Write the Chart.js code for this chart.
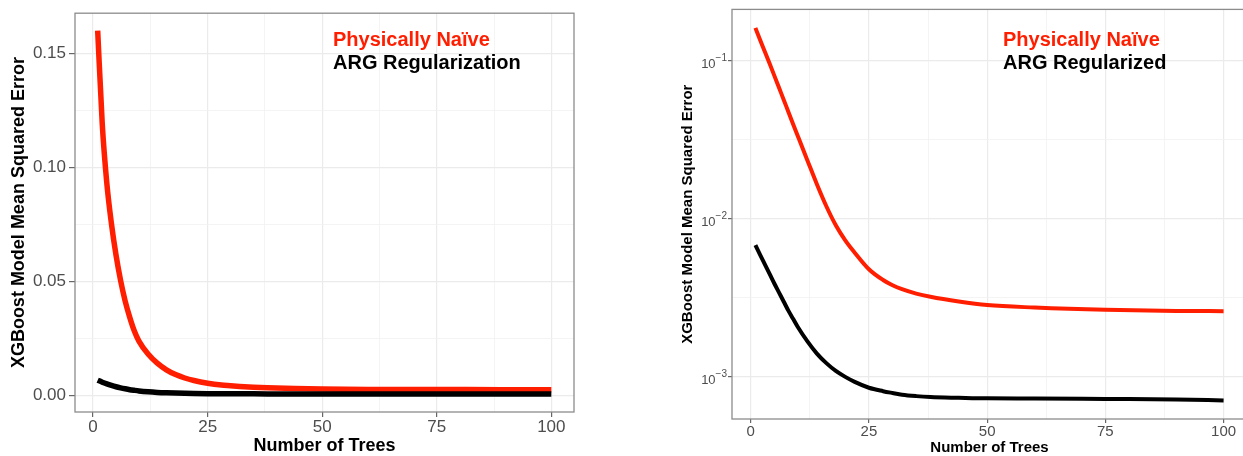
<!DOCTYPE html>
<html>
<head>
<meta charset="utf-8">
<script src="https://cdn.jsdelivr.net/npm/chart.js@4.4.1/dist/chart.umd.min.js"></script>
<style>
  html, body { margin: 0; padding: 0; background: #fff; overflow: hidden; }
  #left { position: absolute; left: 0; top: 0; }
  #right { position: absolute; left: 620px; top: 0; }
</style>
</head>
<body>
<canvas id="left" width="620" height="456"></canvas>
<canvas id="right" width="640" height="456"></canvas>
<script>
const trees = [1, 2, 3, 4, 5, 6, 7, 8, 9, 10, 12, 14, 16, 18, 20, 22, 25, 28, 30, 32, 35, 38, 44, 50, 60, 75, 90, 100];

// left panel (linear axis), physically naive model
const naiveLinear = [0.160, 0.119, 0.093, 0.0754, 0.0616, 0.0504, 0.0414, 0.0343, 0.0283, 0.0239, 0.0182, 0.0142,
  0.0113, 0.0092, 0.0077, 0.0066, 0.0054, 0.0046, 0.0043, 0.0040, 0.00365, 0.0034, 0.0031, 0.0029, 0.0027, 0.00265,
  0.0026, 0.0026];

// right panel (log axis), physically naive model
const naiveLog = [0.160, 0.134, 0.113, 0.0951, 0.0798, 0.0668, 0.0560, 0.0468, 0.0392, 0.0329, 0.0232, 0.0164, 0.0119,
  0.00902, 0.00724, 0.00605, 0.00475, 0.00406, 0.00376, 0.00355, 0.00333, 0.00318, 0.00297, 0.00282, 0.00272, 0.00263,
  0.00259, 0.00258];

// ARG regularized model (same curve on both panels)
const argMSE = [0.00675, 0.00586, 0.00510, 0.00444, 0.00386, 0.00338, 0.00296, 0.00259, 0.00230, 0.00204, 0.00166,
  0.00139, 0.00121, 0.00108, 0.00099, 0.00092, 0.000845, 0.000804, 0.000783, 0.000764, 0.000748, 0.000738, 0.00073,
  0.000724, 0.000723, 0.000718, 0.000713, 0.000703];

const xTicks = [0, 25, 50, 75, 100];
const xMinor = [12.5, 37.5, 62.5, 87.5];
const linTicks = [0, 0.05, 0.10, 0.15];
const linMinor = [0.025, 0.075, 0.125];
const logTicks = [0.001, 0.01, 0.1];
const logMinor = [0.003162, 0.03162];

const FONT = "'Liberation Sans', Arial, Helvetica, sans-serif";
const RED = 'rgb(255, 30, 0)';

function points(values) {
  return trees.map((t, i) => ({ x: t, y: values[i] }));
}

function line(values, color, width, order) {
  return {
    data: points(values),
    borderColor: color,
    borderWidth: width,
    pointRadius: 0,
    cubicInterpolationMode: 'monotone',
    borderCapStyle: 'butt',
    order: order
  };
}

// panel border, the coloured "legend" text and 10^n tick labels
const panelDecor = {
  id: 'panelDecor',
  afterDatasetsDraw(chart, args, opts) {
    const { ctx, chartArea: a } = chart;
    ctx.save();
    ctx.strokeStyle = '#8c8c8c';
    ctx.lineWidth = 1.3;
    ctx.strokeRect(a.left, a.top, a.right - a.left, a.bottom - a.top);
    ctx.font = 'bold 20px ' + FONT;
    ctx.textBaseline = 'alphabetic';
    opts.labels.forEach((l, i) => {
      ctx.fillStyle = l.color;
      ctx.fillText(l.text, opts.x, opts.y + i * 23.5);
    });
    if (opts.powers) {
      const scale = chart.scales.y;
      const right = a.left - 5;
      ctx.fillStyle = '#4d4d4d';
      ctx.textAlign = 'right';
      opts.powers.forEach(v => {
        const py = scale.getPixelForValue(v);
        const exp = '\u2212' + String(Math.abs(Math.round(Math.log10(v))));
        ctx.font = '10px ' + FONT;
        const ew = ctx.measureText(exp).width;
        ctx.fillText(exp, right, py + 1);
        ctx.font = '13px ' + FONT;
        ctx.fillText('10', right - ew, py + 7.5);
      });
    }
    ctx.restore();
  }
};

function gridStyle(major) {
  return {
    color: ctx => major.includes(ctx.tick.value) ? '#ebebeb' : '#f1f1f1',
    lineWidth: ctx => major.includes(ctx.tick.value) ? 1.2 : 0.8,
    tickColor: ctx => major.includes(ctx.tick.value) ? '#666' : 'rgba(0,0,0,0)',
    tickWidth: 1.2
  };
}

// ---- left: linear scale ----
new Chart(document.getElementById('left'), {
  type: 'line',
  data: {
    datasets: [
      line(argMSE, '#000', 5.5, 0),
      line(naiveLinear, RED, 5.5, 1)
    ]
  },
  options: {
    responsive: false,
    animation: false,
    devicePixelRatio: 1,
    layout: { padding: { top: 12, right: 46, bottom: 0, left: 0 } },
    plugins: {
      legend: { display: false },
      tooltip: { enabled: false },
      panelDecor: {
        x: 333, y: 45.5,
        labels: [{ text: 'Physically Naïve', color: RED }, { text: 'ARG Regularization', color: '#000' }]
      }
    },
    scales: {
      x: {
        type: 'linear', min: -3.95, max: 104.95,
        afterBuildTicks: s => { s.ticks = xTicks.concat(xMinor).map(v => ({ value: v })); },
        afterFit: s => { s.height = 44; },
        border: { display: false },
        grid: Object.assign(gridStyle(xTicks), { tickLength: 5 }),
        ticks: {
          autoSkip: false, maxRotation: 0, padding: 0, color: '#4d4d4d',
          font: { family: FONT, size: 17 },
          callback: v => xTicks.includes(v) ? String(v) : ''
        },
        title: {
          display: true, text: 'Number of Trees', color: '#000',
          font: { family: FONT, size: 18, weight: 'bold', lineHeight: 1 },
          padding: { top: 0, bottom: 1 }
        }
      },
      y: {
        type: 'linear', min: -0.0072, max: 0.1676,
        afterBuildTicks: s => { s.ticks = linTicks.concat(linMinor).map(v => ({ value: v })); },
        afterFit: s => { s.width = 75; },
        border: { display: false },
        grid: Object.assign(gridStyle(linTicks), { tickLength: 6 }),
        ticks: {
          autoSkip: false, padding: 3, color: '#4d4d4d',
          font: { family: FONT, size: 17 },
          callback: v => linTicks.includes(v) ? v.toFixed(2) : ''
        },
        title: {
          display: true, text: 'XGBoost Model Mean Squared Error', color: '#000',
          font: { family: FONT, size: 18, weight: 'bold', lineHeight: 1.2 },
          padding: { top: 8, bottom: 0 }
        }
      }
    }
  },
  plugins: [panelDecor]
});

// ---- right: log scale ----
new Chart(document.getElementById('right'), {
  type: 'line',
  data: {
    datasets: [
      line(argMSE, '#000', 4, 0),
      line(naiveLog, RED, 4, 1)
    ]
  },
  options: {
    responsive: false,
    animation: false,
    devicePixelRatio: 1,
    layout: { padding: { top: 6, right: 13, bottom: 0, left: 50 } },
    plugins: {
      legend: { display: false },
      tooltip: { enabled: false },
      panelDecor: {
        x: 383, y: 45.5,
        labels: [{ text: 'Physically Naïve', color: RED }, { text: 'ARG Regularized', color: '#000' }],
        powers: logTicks
      }
    },
    scales: {
      x: {
        type: 'linear', min: -3.95, max: 104.95,
        afterBuildTicks: s => { s.ticks = xTicks.concat(xMinor).map(v => ({ value: v })); },
        afterFit: s => { s.height = 37; },
        border: { display: false },
        grid: Object.assign(gridStyle(xTicks), { tickLength: 4 }),
        ticks: {
          autoSkip: false, maxRotation: 0, padding: 0, color: '#4d4d4d',
          font: { family: FONT, size: 15 },
          callback: v => xTicks.includes(v) ? String(v) : ''
        },
        title: {
          display: true, text: 'Number of Trees', color: '#000',
          font: { family: FONT, size: 15, weight: 'bold', lineHeight: 1 },
          padding: { top: 0, bottom: 1 }
        }
      },
      y: {
        type: 'logarithmic', min: 0.000536, max: 0.2094,
        afterBuildTicks: s => { s.ticks = logTicks.concat(logMinor).map(v => ({ value: v })); },
        afterFit: s => { s.width = 62; },
        border: { display: false },
        grid: Object.assign(gridStyle(logTicks), { tickLength: 4 }),
        ticks: {
          autoSkip: false, padding: 1, color: '#4d4d4d',
          font: { family: FONT, size: 14 },
          callback: () => ''  // drawn as 10 with a raised exponent by panelDecor
        },
        title: {
          display: true, text: 'XGBoost Model Mean Squared Error', color: '#000',
          font: { family: FONT, size: 15, weight: 'bold', lineHeight: 1.2 },
          padding: { top: 9, bottom: 0 }
        }
      }
    }
  },
  plugins: [panelDecor]
});
</script>
</body>
</html>
